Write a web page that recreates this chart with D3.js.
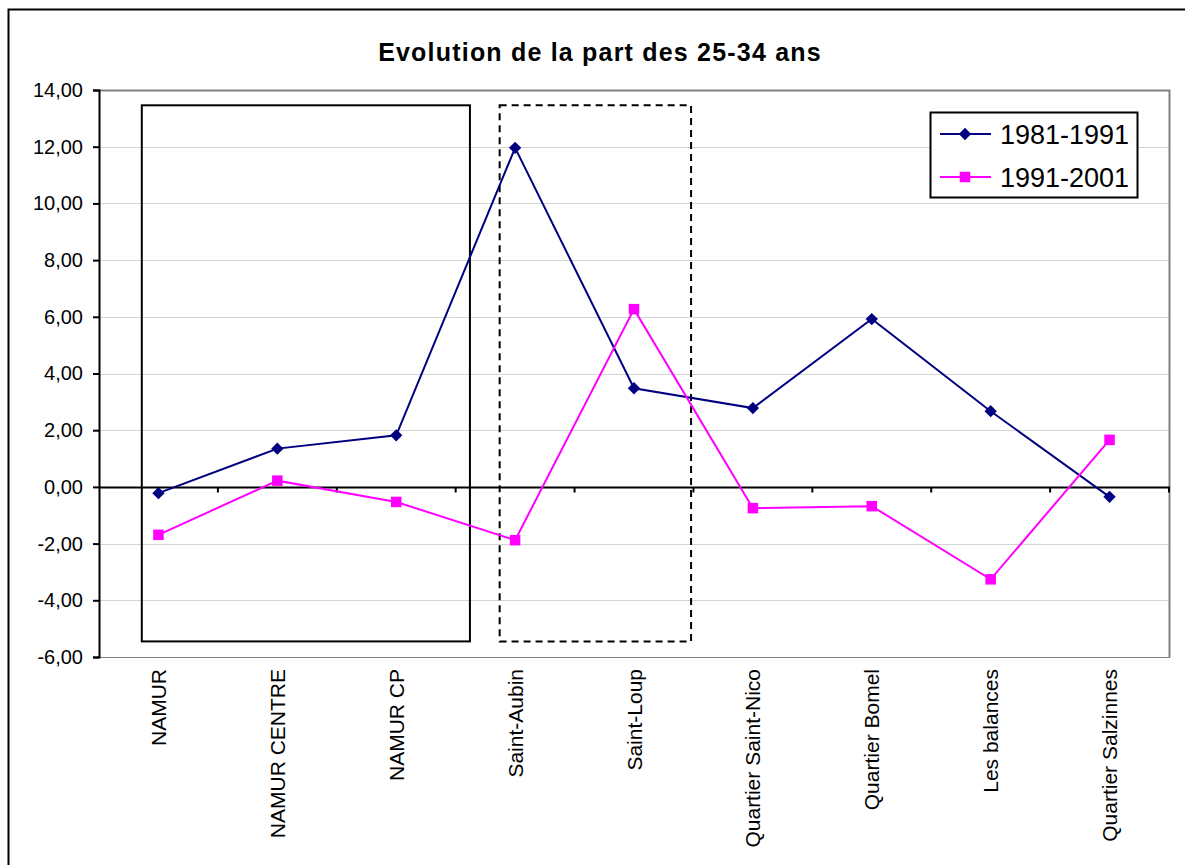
<!DOCTYPE html>
<html>
<head>
<meta charset="utf-8">
<script src="https://cdn.jsdelivr.net/npm/d3@7"></script>
<style>
  html, body { margin: 0; padding: 0; background: #fff; }
  svg { display: block; font-family: "Liberation Sans", Arial, sans-serif; }
</style>
</head>
<body>
<svg id="chart" width="1185" height="865"></svg>
<script>
// Quartiers de Namur
const categories = [
  "NAMUR", "NAMUR CENTRE", "NAMUR CP", "Saint-Aubin", "Saint-Loup",
  "Quartier Saint-Nico", "Quartier Bomel", "Les balances", "Quartier Salzinnes"
];
// Évolution de la part des 25-34 ans (points de %)
const series1981 = [-0.22, 1.35, 1.82, 11.96, 3.48, 2.78, 5.92, 2.67, -0.35];
const series1991 = [-1.69, 0.22, -0.53, -1.88, 6.27, -0.75, -0.68, -3.26, 1.66];
const seriesNames = ["1981-1991", "1991-2001"];
const yTicks = [-6, -4, -2, 0, 2, 4, 6, 8, 10, 12, 14];
const title = "Evolution de la part des 25-34 ans";

const svg = d3.select("#chart");
const plot = { left: 99, right: 1169, top: 90, bottom: 657 };

const x = d3.scaleBand().domain(categories).range([plot.left, plot.right]).padding(0);
const xc = c => x(c) + x.bandwidth() / 2;
const y = d3.scaleLinear().domain([-6, 14]).range([plot.bottom, plot.top]);
// French decimal comma, plain hyphen for negatives
const fmt = v => d3.format(".2f")(v).replace(".", ",").replace("\u2212", "-");

// outer chart frame
svg.append("rect")
  .attr("x", 8.5).attr("y", 9.5).attr("width", 1200).attr("height", 900)
  .attr("fill", "#fff").attr("stroke", "#000").attr("stroke-width", 2);

// title
svg.append("text")
  .attr("x", 600).attr("y", 61)
  .attr("text-anchor", "middle")
  .attr("font-size", 25).attr("font-weight", "bold")
  .attr("letter-spacing", 1.2)
  .text(title);

// horizontal gridlines
svg.append("g")
  .selectAll("line")
  .data(yTicks.filter(t => t !== 14 && t !== 0 && t !== -6))
  .join("line")
  .attr("x1", plot.left).attr("x2", plot.right)
  .attr("y1", d => Math.round(y(d)) + 0.5).attr("y2", d => Math.round(y(d)) + 0.5)
  .attr("stroke", "#d4d4d4").attr("stroke-width", 1);

// plot area border (top and right)
svg.append("path")
  .attr("d", `M${plot.left},${plot.top + 0.5}H${plot.right + 0.5}V${plot.bottom}`)
  .attr("fill", "none").attr("stroke", "#808080").attr("stroke-width", 2);
svg.append("line")
  .attr("x1", plot.left).attr("x2", plot.right + 1)
  .attr("y1", plot.bottom + 0.5).attr("y2", plot.bottom + 0.5)
  .attr("stroke", "#808080").attr("stroke-width", 1);

// y axis
const yAxis = d3.axisLeft(y).tickValues(yTicks).tickFormat(fmt).tickSize(6).tickPadding(10);
const gy = svg.append("g").attr("transform", `translate(${plot.left},0)`).call(yAxis);
gy.select(".domain").attr("stroke", "#000").attr("stroke-width", 2);
gy.selectAll(".tick line").attr("stroke", "#000").attr("stroke-width", 2);
gy.selectAll(".tick text")
  .attr("font-size", 20).attr("fill", "#000")
  .attr("font-family", "Liberation Sans, Arial, sans-serif");

// zero axis with ticks at category boundaries
const y0 = Math.round(y(0)) + 0.5;
svg.append("line")
  .attr("x1", plot.left).attr("x2", plot.right + 1)
  .attr("y1", y0).attr("y2", y0)
  .attr("stroke", "#000").attr("stroke-width", 2);
const bounds = categories.map(c => x(c)).concat([plot.right]);
svg.append("g").selectAll("line")
  .data(bounds.slice(1))
  .join("line")
  .attr("x1", d => d).attr("x2", d => d)
  .attr("y1", y0).attr("y2", y0 + 5)
  .attr("stroke", "#000").attr("stroke-width", 2);

// category labels, rotated
svg.append("g").selectAll("text")
  .data(categories)
  .join("text")
  .attr("transform", d => `translate(${xc(d) + 7.5},${plot.bottom + 12}) rotate(-90)`)
  .attr("text-anchor", "end")
  .attr("font-size", 21)
  .text(d => d);

// highlight boxes around groups of quartiers (data coordinates)
const boxTop = 13.46, boxBottom = -5.45;
const boxSolid = { x0: x(categories[0]) + 0.36 * x.bandwidth(), x1: x(categories[3]) + 0.12 * x.bandwidth() };
const boxDash = { x0: x(categories[3]) + 0.37 * x.bandwidth(), x1: x(categories[4]) + 0.98 * x.bandwidth() };
svg.append("rect")
  .attr("x", boxSolid.x0).attr("y", y(boxTop))
  .attr("width", boxSolid.x1 - boxSolid.x0).attr("height", y(boxBottom) - y(boxTop))
  .attr("fill", "none").attr("stroke", "#000").attr("stroke-width", 2);
svg.append("rect")
  .attr("x", boxDash.x0).attr("y", y(boxTop))
  .attr("width", boxDash.x1 - boxDash.x0).attr("height", y(boxBottom) - y(boxTop))
  .attr("fill", "none").attr("stroke", "#000").attr("stroke-width", 2)
  .attr("stroke-dasharray", "7,5");

// series lines + markers
const line = d3.line().x((d, i) => xc(categories[i])).y(d => y(d));

svg.append("path").datum(series1981)
  .attr("d", line).attr("fill", "none").attr("stroke", "#000080").attr("stroke-width", 2);
svg.append("path").datum(series1991)
  .attr("d", line).attr("fill", "none").attr("stroke", "#FF00FF").attr("stroke-width", 2);

const diamondPath = d3.symbol().type(d3.symbolSquare).size(76)();
svg.append("g").selectAll("path")
  .data(series1981)
  .join("path")
  .attr("d", diamondPath)
  .attr("transform", (d, i) => `translate(${xc(categories[i])},${y(d)}) rotate(45)`)
  .attr("fill", "#000080");

svg.append("g").selectAll("rect")
  .data(series1991)
  .join("rect")
  .attr("x", (d, i) => xc(categories[i]) - 5.25)
  .attr("y", d => y(d) - 5.25)
  .attr("width", 10.5).attr("height", 10.5)
  .attr("fill", "#FF00FF");

// legend
const lg = svg.append("g");
lg.append("rect")
  .attr("x", 930.5).attr("y", 112.5).attr("width", 207).attr("height", 85)
  .attr("fill", "#fff").attr("stroke", "#000").attr("stroke-width", 2);
const legendItems = [
  { name: seriesNames[0], color: "#000080", shape: "diamond", y: 134 },
  { name: seriesNames[1], color: "#FF00FF", shape: "square", y: 177 }
];
legendItems.forEach(it => {
  lg.append("line")
    .attr("x1", 940).attr("x2", 991).attr("y1", it.y).attr("y2", it.y)
    .attr("stroke", it.color).attr("stroke-width", 2);
  if (it.shape === "diamond") {
    lg.append("path")
      .attr("d", diamondPath)
      .attr("transform", `translate(965,${it.y}) rotate(45)`)
      .attr("fill", it.color);
  } else {
    lg.append("rect")
      .attr("x", 965 - 5.25).attr("y", it.y - 5.25).attr("width", 10.5).attr("height", 10.5)
      .attr("fill", it.color);
  }
  lg.append("text")
    .attr("x", 1000).attr("y", it.y + 10)
    .attr("font-size", 27)
    .text(it.name);
});
</script>
</body>
</html>
